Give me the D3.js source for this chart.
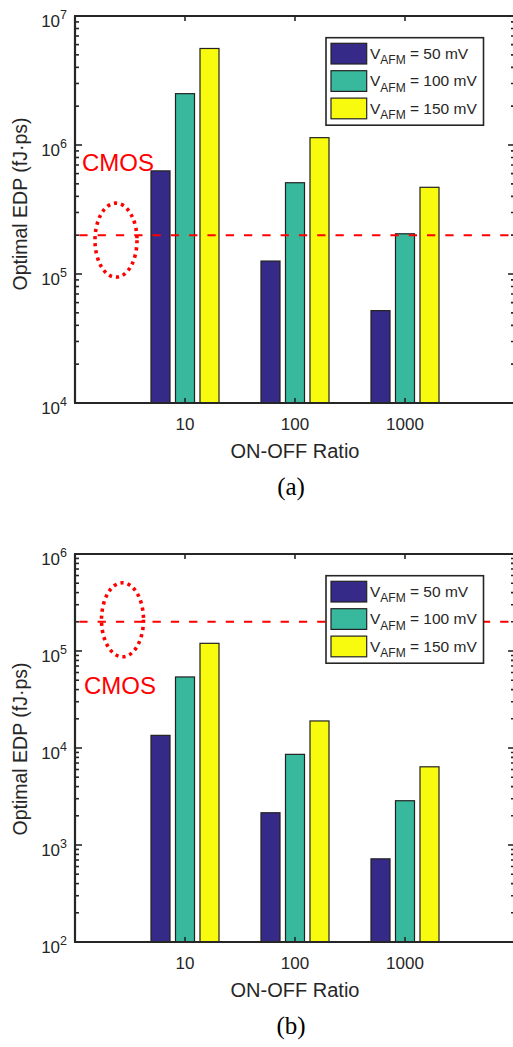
<!DOCTYPE html>
<html>
<head>
<meta charset="utf-8">
<script src="https://cdn.jsdelivr.net/npm/d3@7"></script>
<style>
  html, body { margin: 0; padding: 0; background: #fff; }
  svg { display: block; }
  text { font-family: "Liberation Sans", Arial, sans-serif; fill: #262626; }
</style>
</head>
<body>
<svg id="chart" width="513" height="1047"></svg>
<script>
// ---- data ----
const ratios = ['10', '100', '1000'];
const vafm = ['50 mV', '100 mV', '150 mV'];
const colors = ['#352a87', '#38b99e', '#f9fb0e'];

// panel (a)
const edpA_50  = [6.3e5, 1.26e5, 5.2e4];
const edpA_100 = [2.5e6, 5.1e5, 2.05e5];
const edpA_150 = [5.6e6, 1.14e6, 4.7e5];
const yTicksA = [1e4, 1e5, 1e6, 1e7];

// panel (b)
const edpB_50  = [1.35e4, 2.15e3, 7.2e2];
const edpB_100 = [5.4e4, 8.6e3, 2.86e3];
const edpB_150 = [1.2e5, 1.9e4, 6.4e3];
const yTicksB = [1e2, 1e3, 1e4, 1e5, 1e6];

const cmosEDP = 2e5;

const svg = d3.select('#chart');
const AX = '#262626';

function drawPanel(o) {
  const series = o.series;
  const x = d3.scaleLinear().domain([0, 4]).range([75, 515]);
  const y = d3.scaleLog().domain(o.domain).range([o.bottom, o.top]);
  const band = d3.scaleBand().domain([0, 1, 2]).range([-36.75, 36.75])
    .paddingInner(0.224).paddingOuter(0.112);
  const g = svg.append('g');

  // bars
  series.forEach((vals, si) => {
    g.append('g').selectAll('rect')
      .data(vals)
      .join('rect')
        .attr('x', (d, i) => x(i + 1) + band(si))
        .attr('y', d => y(d))
        .attr('width', band.bandwidth())
        .attr('height', d => o.bottom - y(d))
        .attr('fill', colors[si])
        .attr('stroke', '#222')
        .attr('stroke-width', 1.2);
  });

  // CMOS reference line
  g.append('line')
    .attr('x1', x(0)).attr('x2', x(4))
    .attr('y1', y(cmosEDP)).attr('y2', y(cmosEDP))
    .attr('stroke', '#ff0000').attr('stroke-width', 2)
    .attr('stroke-dasharray', '8.3,10').attr('stroke-dashoffset', 14);

  // dotted ellipse + label
  g.append('ellipse')
    .attr('cx', o.ell[0]).attr('cy', y(cmosEDP) + o.ell[1])
    .attr('rx', 21).attr('ry', 37)
    .attr('fill', 'none').attr('stroke', '#ff0000')
    .attr('stroke-width', 3.6).attr('stroke-dasharray', '3.2,4');
  g.append('text')
    .attr('x', o.cmos[0]).attr('y', o.cmos[1])
    .attr('font-size', 24).style('fill', '#ff0000')
    .text('CMOS');

  // axes frame
  g.append('line').attr('x1', x(0)).attr('x2', x(0))
    .attr('y1', o.top).attr('y2', o.bottom)
    .attr('stroke', AX).attr('stroke-width', 2.2);
  g.append('line').attr('x1', x(0) - 1).attr('x2', x(4))
    .attr('y1', o.bottom).attr('y2', o.bottom)
    .attr('stroke', AX).attr('stroke-width', 2.2);
  g.append('line').attr('x1', x(0) - 1).attr('x2', x(4))
    .attr('y1', o.top).attr('y2', o.top)
    .attr('stroke', AX).attr('stroke-width', 2.2);

  // log ticks, left (inward) and right edge (inward)
  const allTicks = y.ticks();
  const isMajor = d => Math.abs(Math.log10(d) - Math.round(Math.log10(d))) < 1e-9;
  allTicks.forEach(t => {
    const len = isMajor(t) ? 7 : 4;
    g.append('line').attr('x1', x(0)).attr('x2', x(0) + len)
      .attr('y1', y(t)).attr('y2', y(t))
      .attr('stroke', AX).attr('stroke-width', 1.6);
    g.append('line').attr('x1', x(4)).attr('x2', x(4) - len)
      .attr('y1', y(t)).attr('y2', y(t))
      .attr('stroke', AX).attr('stroke-width', 1.6);
  });

  // y tick labels 10^n
  o.yTicks.forEach(t => {
    const tx = g.append('text')
      .attr('x', 67).attr('y', y(t) + 11)
      .attr('text-anchor', 'end').attr('font-size', 17);
    tx.append('tspan').text('10');
    tx.append('tspan').attr('dy', -8).attr('font-size', 12.5)
      .text(Math.round(Math.log10(t)));
  });

  // category ticks on top and bottom
  ratios.forEach((r, i) => {
    const cx = x(i + 1);
    g.append('line').attr('x1', cx).attr('x2', cx)
      .attr('y1', o.bottom).attr('y2', o.bottom - 5)
      .attr('stroke', AX).attr('stroke-width', 1.6);
    g.append('line').attr('x1', cx).attr('x2', cx)
      .attr('y1', o.top).attr('y2', o.top + 5)
      .attr('stroke', AX).attr('stroke-width', 1.6);
    g.append('text').attr('x', cx).attr('y', o.bottom + 27)
      .attr('text-anchor', 'middle').attr('font-size', 17)
      .text(r);
  });

  // axis labels
  g.append('text').attr('x', 295).attr('y', o.bottom + 55)
    .attr('text-anchor', 'middle').attr('font-size', 20)
    .text('ON-OFF Ratio');
  g.append('text')
    .attr('transform', `translate(27,${o.ylabY}) rotate(-90)`)
    .attr('text-anchor', 'middle').attr('font-size', 19.5)
    .text('Optimal EDP (fJ·ps)');
  g.append('text').attr('x', 291).attr('y', o.bottom + 92)
    .attr('text-anchor', 'middle').attr('font-size', 25)
    .style('font-family', '"Liberation Serif", "Times New Roman", serif')
    .style('fill', '#000')
    .text(o.tag);

  // legend
  const lg = g.append('g').attr('transform', `translate(326,${o.legTop})`);
  lg.append('rect').attr('width', 157.5).attr('height', 87.5)
    .attr('fill', '#fff').attr('stroke', AX).attr('stroke-width', 1.6);
  vafm.forEach((lab, i) => {
    const ry = 5.6 + i * 27.4;
    lg.append('rect').attr('x', 5).attr('y', ry)
      .attr('width', 35.7).attr('height', 20.7)
      .attr('fill', colors[i]).attr('stroke', '#222').attr('stroke-width', 1.2);
    const t = lg.append('text').attr('x', 44).attr('y', ry + 15.5)
      .attr('font-size', 15.5);
    t.append('tspan').text('V');
    t.append('tspan').attr('dy', 5.5).attr('font-size', 12).text('AFM');
    t.append('tspan').attr('dy', -5.5).text(' = ' + lab);
  });
}

drawPanel({
  series: [edpA_50, edpA_100, edpA_150],
  domain: [1e4, 1e7], top: 16, bottom: 403, yTicks: yTicksA,
  ell: [116, 5], cmos: [82, 171], legTop: 37.7, ylabY: 204, tag: '(a)'
});
drawPanel({
  series: [edpB_50, edpB_100, edpB_150],
  domain: [1e2, 1e6], top: 554, bottom: 942, yTicks: yTicksB,
  ell: [122.5, -2], cmos: [84, 693.5], legTop: 575.7, ylabY: 749, tag: '(b)'
});
</script>
</body>
</html>
